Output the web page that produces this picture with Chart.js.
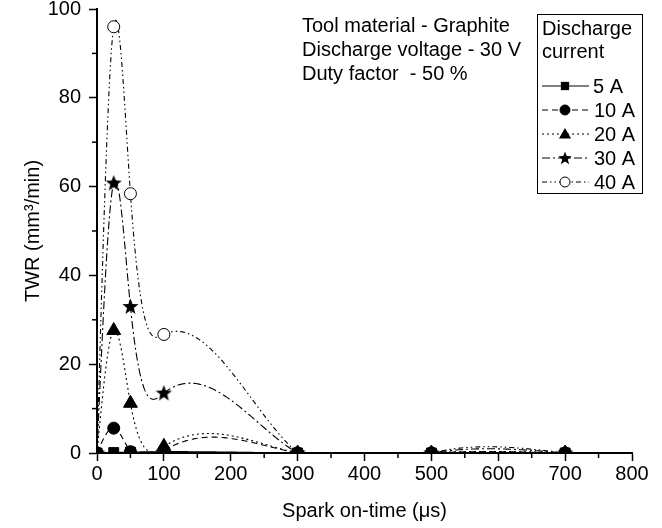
<!DOCTYPE html>
<html>
<head>
<meta charset="utf-8">
<script src="https://cdn.jsdelivr.net/npm/chart.js@4.4.1/dist/chart.umd.min.js"></script>
<style>
  body { margin: 0; background: #fff; }
  canvas { display: block; }
</style>
</head>
<body>
<canvas id="chartTWR" width="662" height="528"></canvas>
<script>
// datos
const sparkOnTime = [0, 25, 50, 100, 300, 500, 700];
const currentLabels = ['5 A', '10 A', '20 A', '30 A', '40 A'];
const twr5A  = [0, 0.1, 0.2, 0.3, 0, 0, 0];
const twr10A = [0, 5.6, 0.3, 0.5, 0, 0, 0];
const twr20A = [0, 27.6, 11.2, 1.5, 0, 0, 0];
const twr30A = [0, 60.8, 33.0, 13.5, 0, 0, 0];
const twr40A = [0, 96.0, 58.4, 26.7, 0, 0, 0];
const xTicks = [0, 100, 200, 300, 400, 500, 600, 700, 800];
const yTicks = [0, 20, 40, 60, 80, 100];
const infoLines = ['Tool material - Graphite', 'Discharge voltage - 30 V', 'Duty factor  - 50 %'];
const legendTitle = ['Discharge', 'current'];

const FONT = '"Liberation Sans", Arial, sans-serif';

// estrella rellena para 30 A
function makeStar(size) {
    const c = document.createElement('canvas');
    c.width = size; c.height = size;
    const g = c.getContext('2d');
    const cx = size / 2, cy = size / 2 + 0.5, ro = size / 2, ri = ro * 0.42;
    g.beginPath();
    for (let i = 0; i < 10; i++) {
        const r = i % 2 ? ri : ro;
        const a = -Math.PI / 2 + i * Math.PI / 5;
        g.lineTo(cx + r * Math.cos(a), cy + r * Math.sin(a));
    }
    g.closePath();
    g.fillStyle = '#000';
    g.fill();
    return c;
}
const starBig = makeStar(17);
const starSmall = makeStar(14);

const series = [
    { data: twr5A,  style: 'rect',     radius: 7,   fill: '#000', dash: [],                 legendR: 5.5 },
    { data: twr10A, style: 'circle',   radius: 6,   fill: '#000', dash: [6, 4],             legendR: 5 },
    { data: twr20A, style: 'triangle', radius: 8,   fill: '#000', dash: [2, 3],             legendR: 7 },
    { data: twr30A, style: starBig,    radius: 8,   fill: '#000', dash: [8, 3, 2, 3],       legendR: 6 },
    { data: twr40A, style: 'circle',   radius: 6,   fill: '#fff', dash: [5, 3, 1.5, 3, 1.5, 3], legendR: 5 }
];

// spline natural como el de Origin
function naturalSpline(xs, ys) {
    const n = xs.length;
    const h = [];
    for (let i = 0; i < n - 1; i++) h.push(xs[i + 1] - xs[i]);
    const a = [], b = [], c = [], d = [];
    for (let i = 1; i < n - 1; i++) {
        a.push(h[i - 1]);
        b.push(2 * (h[i - 1] + h[i]));
        c.push(h[i]);
        d.push(6 * ((ys[i + 1] - ys[i]) / h[i] - (ys[i] - ys[i - 1]) / h[i - 1]));
    }
    const k = b.length;
    for (let i = 1; i < k; i++) {
        const w = a[i] / b[i - 1];
        b[i] -= w * c[i - 1];
        d[i] -= w * d[i - 1];
    }
    const m = new Array(n).fill(0);
    const sol = new Array(k);
    sol[k - 1] = d[k - 1] / b[k - 1];
    for (let i = k - 2; i >= 0; i--) sol[i] = (d[i] - c[i] * sol[i + 1]) / b[i];
    for (let i = 0; i < k; i++) m[i + 1] = sol[i];
    return (i, x) => {
        const hh = h[i], x0 = xs[i], x1 = xs[i + 1];
        return m[i] * Math.pow(x1 - x, 3) / (6 * hh) + m[i + 1] * Math.pow(x - x0, 3) / (6 * hh)
            + (ys[i] / hh - m[i] * hh / 6) * (x1 - x) + (ys[i + 1] / hh - m[i + 1] * hh / 6) * (x - x0);
    };
}

const splinePlugin = {
    id: 'splineLines',
    beforeDatasetsDraw(chart) {
        const { ctx: c, chartArea: ca, scales: { x, y } } = chart;
        c.save();
        c.beginPath();
        c.rect(ca.left, ca.top, ca.right - ca.left, ca.bottom - ca.top);
        c.clip();
        chart.data.datasets.forEach(ds => {
            const xs = ds.data.map(p => p.x), ys = ds.data.map(p => p.y);
            const f = naturalSpline(xs, ys);
            c.beginPath();
            for (let i = 0; i < xs.length - 1; i++) {
                const steps = 80;
                for (let s = 0; s <= steps; s++) {
                    const xv = xs[i] + (xs[i + 1] - xs[i]) * s / steps;
                    const px = x.getPixelForValue(xv), py = y.getPixelForValue(f(i, xv));
                    if (i === 0 && s === 0) c.moveTo(px, py); else c.lineTo(px, py);
                }
            }
            c.setLineDash(ds.borderDash || []);
            c.lineWidth = 1.1;
            c.strokeStyle = '#000';
            c.stroke();
        });
        c.restore();
    }
};

function drawMarker(c, s, px, py, r) {
    c.save();
    c.fillStyle = s.fill;
    c.strokeStyle = '#000';
    c.lineWidth = 1;
    c.setLineDash([]);
    if (s.style instanceof HTMLCanvasElement) {
        const img = s.style === starBig ? starSmall : s.style;
        c.drawImage(img, px - img.width / 2, py - img.height / 2);
    } else if (s.style === 'rect') {
        const h = r * 0.75;
        c.fillRect(px - h, py - h, 2 * h, 2 * h);
    } else if (s.style === 'triangle') {
        c.beginPath();
        for (let k = 0; k < 3; k++) {
            const a = -Math.PI / 2 + k * 2 * Math.PI / 3;
            c.lineTo(px + r * Math.cos(a), py + 1 + r * Math.sin(a));
        }
        c.closePath();
        c.fill();
    } else {
        c.beginPath();
        c.arc(px, py, r, 0, 2 * Math.PI);
        c.fill();
        c.stroke();
    }
    c.restore();
}

const textosPlugin = {
    id: 'textos',
    afterDraw(chart) {
        const { ctx: c, chartArea: ca, scales: { x, y } } = chart;
        c.save();
        // ticks menores
        c.strokeStyle = '#000';
        c.lineWidth = 1.5;
        for (let i = 0; i < xTicks.length - 1; i++) {
            const px = x.getPixelForValue((xTicks[i] + xTicks[i + 1]) / 2);
            c.beginPath(); c.moveTo(px, ca.bottom); c.lineTo(px, ca.bottom + 5); c.stroke();
        }
        for (let i = 0; i < yTicks.length - 1; i++) {
            const py = y.getPixelForValue((yTicks[i] + yTicks[i + 1]) / 2);
            c.beginPath(); c.moveTo(ca.left, py); c.lineTo(ca.left - 5, py); c.stroke();
        }
        // texto informativo
        c.font = '20px ' + FONT;
        c.fillStyle = '#000';
        c.textAlign = 'left';
        c.textBaseline = 'middle';
        infoLines.forEach((t, i) => c.fillText(t, 302, 26 + i * 24));
        // leyenda
        c.lineWidth = 1;
        c.strokeRect(537.5, 14.5, 105, 179);
        legendTitle.forEach((t, i) => c.fillText(t, 542, 29 + i * 23.5));
        series.forEach((s, i) => {
            const ly = 86 + i * 24;
            c.save();
            c.lineWidth = 1;
            c.setLineDash(s.dash);
            c.beginPath(); c.moveTo(542, ly); c.lineTo(589, ly); c.stroke();
            c.restore();
            drawMarker(c, s, 565, ly, s.legendR);
            c.fillText(currentLabels[i], i === 0 ? 593 : 594, ly + 1);
        });
        c.restore();
    }
};

new Chart(document.getElementById('chartTWR'), {
    type: 'scatter',
    data: {
        datasets: series.map((s, i) => ({
            label: currentLabels[i],
            data: sparkOnTime.map((t, k) => ({ x: t, y: s.data[k] })),
            showLine: false,
            borderDash: s.dash,
            pointStyle: s.style,
            pointRadius: s.radius,
            pointBackgroundColor: s.fill,
            pointBorderColor: '#000',
            pointBorderWidth: 1,
            clip: 0
        }))
    },
    options: {
        responsive: false,
        animation: false,
        events: [],
        layout: { padding: { top: 7, right: 30, bottom: 0, left: 0 } },
        plugins: { legend: { display: false }, tooltip: { enabled: false } },
        scales: {
            x: {
                type: 'linear', min: 0, max: 800,
                afterBuildTicks: s => { s.ticks = xTicks.map(v => ({ value: v })); },
                afterFit: s => { s.height = 75; s.paddingLeft = 0; s.paddingRight = 0; },
                border: { color: '#000', width: 2 },
                grid: { drawOnChartArea: false, drawTicks: true, tickLength: 8, tickColor: '#000', tickWidth: 1.5 },
                ticks: { color: '#000', font: { size: 20, family: FONT }, padding: 1, maxRotation: 0 },
                title: { display: true, text: 'Spark on-time (\u03bcs)', color: '#000', font: { size: 20, family: FONT }, padding: { top: 0, bottom: 5 } }
            },
            y: {
                type: 'linear', min: 0, max: 100,
                afterBuildTicks: s => { s.ticks = yTicks.map(v => ({ value: v })); },
                afterFit: s => { s.width = 97; s.paddingTop = 0; s.paddingBottom = 0; },
                border: { color: '#000', width: 2 },
                grid: { drawOnChartArea: false, drawTicks: true, tickLength: 8, tickColor: '#000', tickWidth: 1.5 },
                ticks: { color: '#000', font: { size: 20, family: FONT }, padding: 8 },
                title: { display: true, text: 'TWR (mm\u00b3/min)', color: '#000', font: { size: 20, family: FONT }, padding: { top: 21, bottom: 0 } }
            }
        }
    },
    plugins: [splinePlugin, textosPlugin]
});
</script>
</body>
</html>
